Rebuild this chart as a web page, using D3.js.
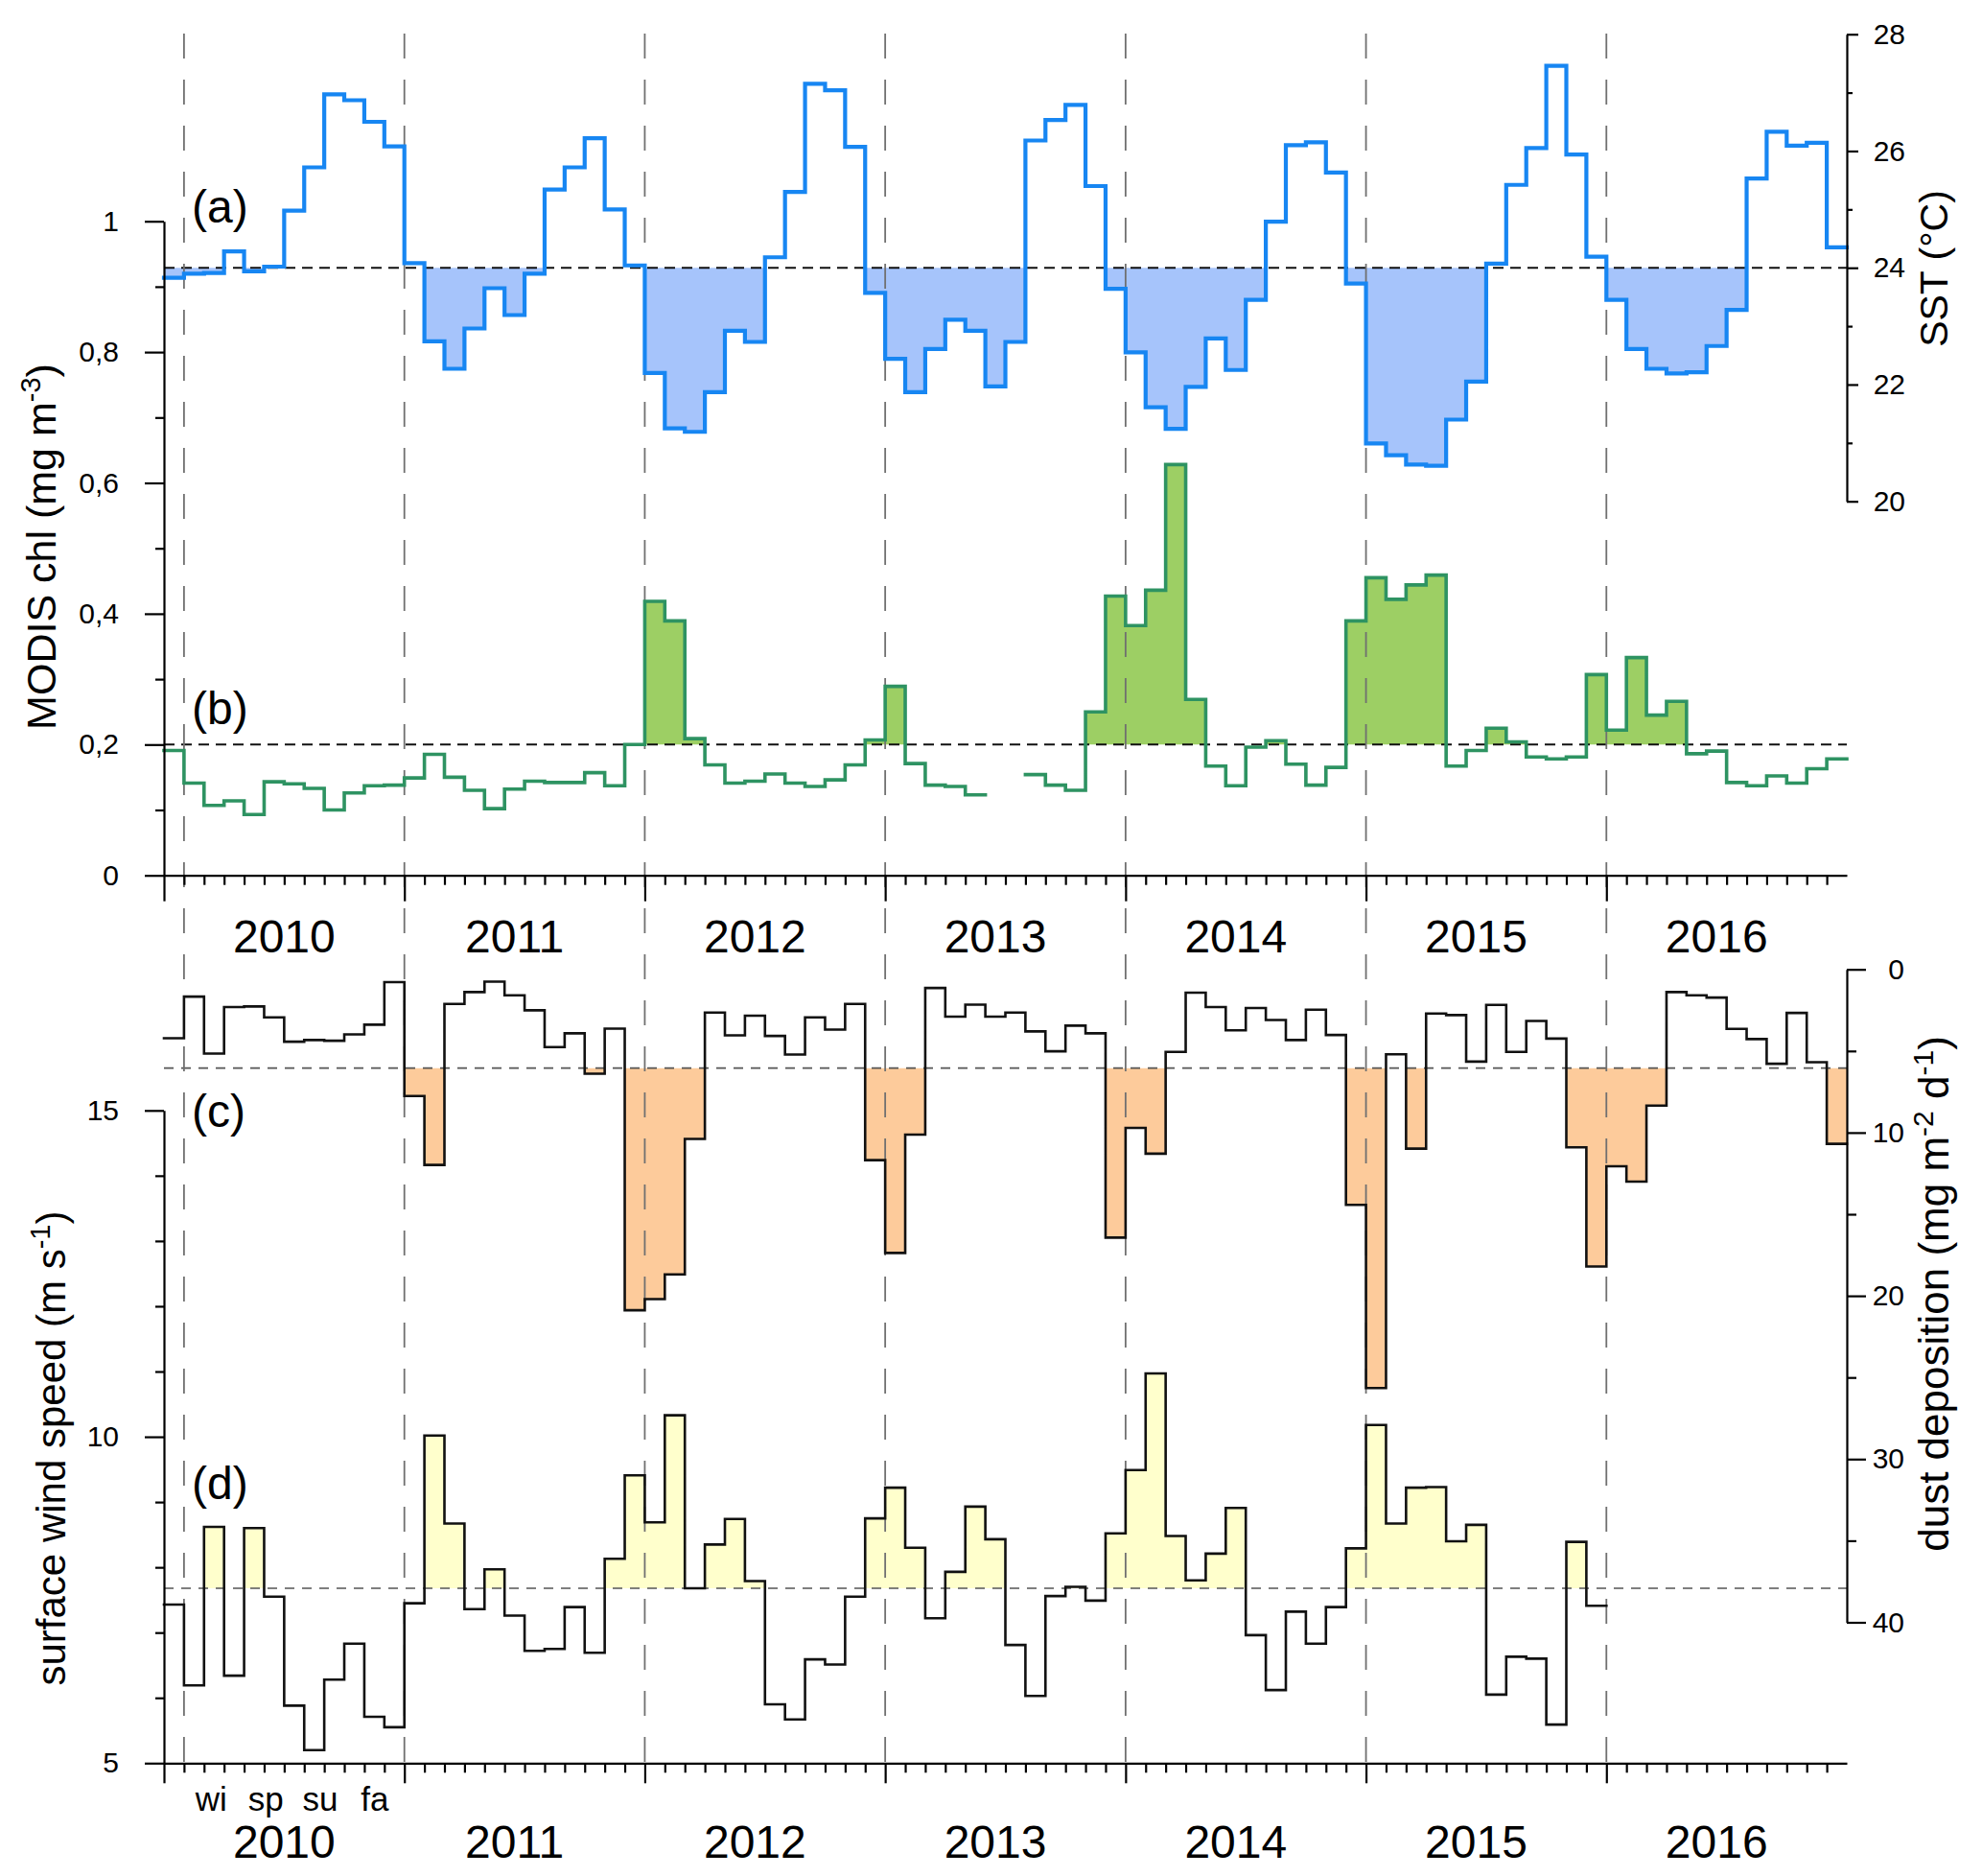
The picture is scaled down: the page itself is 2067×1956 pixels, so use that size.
<!DOCTYPE html>
<html><head><meta charset="utf-8">
<script src="https://cdn.jsdelivr.net/npm/d3@7"></script>
<style>
html,body{margin:0;padding:0;background:#fff;}
svg{display:block;}
text{font-family:"Liberation Sans", Arial, Helvetica, sans-serif;fill:#000;}
</style>
</head><body>
<svg id="chart" width="2067" height="1956"></svg>
<script>
// ---------- data (monthly, index 0 = first month on the axis) ----------
const years = ["2010","2011","2012","2013","2014","2015","2016"];
const yearLines = [1, 12, 24, 36, 48, 60, 72];   // month index of the dashed separators
const seasons = ["wi","sp","su","fa"];

const sst = [
  23.83,23.90,23.91,24.28,23.94,24.02,24.98,25.72,26.97,26.87,26.50,26.08,
  24.08,22.74,22.27,22.96,23.65,23.19,23.90,25.34,25.72,26.22,25.00,24.04,
  22.20,21.25,21.19,21.87,22.92,22.73,24.18,25.30,27.15,27.04,26.07,23.57,
  22.44,21.87,22.61,23.11,22.92,21.97,22.73,26.18,26.53,26.79,25.40,23.64,
  22.55,21.61,21.24,21.96,22.79,22.25,23.45,24.79,26.10,26.15,25.63,23.73,
  20.99,20.79,20.63,20.61,21.40,22.05,24.07,25.42,26.05,27.46,25.94,24.19,
  23.45,22.61,22.27,22.19,22.21,22.66,23.28,25.53,26.33,26.09,26.14,24.35
];
const chl = [
  0.191,0.141,0.107,0.114,0.093,0.143,0.140,0.133,0.100,0.126,0.137,0.138,
  0.149,0.185,0.150,0.130,0.102,0.132,0.144,0.142,0.142,0.157,0.137,0.200,
  0.419,0.389,0.209,0.169,0.141,0.144,0.155,0.141,0.136,0.146,0.169,0.207,
  0.289,0.171,0.138,0.136,0.123,null,null,0.154,0.138,0.130,0.250,0.427,
  0.382,0.436,0.628,0.269,0.167,0.137,0.196,0.206,0.170,0.138,0.165,0.389,
  0.455,0.422,0.444,0.459,0.167,0.191,0.225,0.204,0.181,0.178,0.181,0.307,
  0.222,0.333,0.245,0.266,0.186,0.190,0.142,0.137,0.152,0.141,0.163,0.178
];
const dust = [
  4.22,1.67,5.16,2.31,2.27,2.94,4.43,4.33,4.37,3.98,3.39,0.78,
  7.76,11.98,2.12,1.39,0.75,1.59,2.51,4.76,3.92,6.39,3.63,20.88,
  20.20,18.69,10.39,2.65,4.04,2.84,4.08,5.22,2.94,3.69,2.12,11.69,
  17.37,10.12,1.14,2.90,2.16,2.90,2.65,3.80,5.02,3.45,3.92,16.43,
  9.71,11.29,5.06,1.43,2.31,3.73,2.37,3.10,4.33,2.47,4.02,14.43,
  25.65,5.20,10.98,2.71,2.80,5.65,2.18,5.06,3.16,4.24,10.90,18.20,
  12.06,13.00,8.35,1.39,1.59,1.73,3.65,4.27,5.78,2.67,5.69,10.69
];
const wind = [
  7.43,6.19,8.62,6.34,8.60,7.55,5.88,5.20,6.28,6.83,5.71,5.55,
  7.45,10.02,8.67,7.36,7.97,7.26,6.72,6.75,7.39,6.69,8.13,9.41,
  8.69,10.33,7.68,8.35,8.74,7.79,5.90,5.67,6.59,6.51,7.55,8.75,
  9.22,8.30,7.22,7.93,8.93,8.43,6.81,6.03,7.56,7.70,7.49,8.52,
  9.49,10.97,8.48,7.80,8.21,8.91,6.96,6.12,7.32,6.83,7.39,8.29,
  10.18,8.67,9.22,9.23,8.40,8.65,6.05,6.63,6.60,5.59,8.39,7.41,
  null,null,null,null,null,null,null,null,null,null,null,null
];
const sstThreshold = 24, chlThreshold = 0.2, dustThreshold = 6.05, windThreshold = 7.68;

const chlTicks = [0,0.2,0.4,0.6,0.8,1];
const chlTickLabels = ["0","0,2","0,4","0,6","0,8","1"];
const chlMinor = [0.1,0.3,0.5,0.7,0.9];
const sstTicks = [20,22,24,26,28];
const sstMinor = [21,23,25,27];
const windTicks = [5,10,15];
const windMinor = [6,7,8,9,11,12,13,14];
const dustTicks = [0,10,20,30,40];
const dustMinor = [5,15,25,35];
const nMonths = 84;

// ---------- scales ----------
const x = d3.scaleLinear().domain([0, nMonths]).range([171, 1926]);
const ySST = d3.scaleLinear().domain([20, 28]).range([522.7, 35.7]);
const yChl = d3.scaleLinear().domain([0, 1]).range([912.7, 230.7]);
const yDust = d3.scaleLinear().domain([0, 40]).range([1010.7, 1691.5]);
const yWind = d3.scaleLinear().domain([5, 15]).range([1838.3, 1157.8]);

const svg = d3.select("#chart");
svg.append("rect").attr("width",2067).attr("height",1956).attr("fill","#fff");

function stepPoints(vals){
  const pts = [];
  vals.forEach((v,i) => {
    if (v == null) { pts.push({i, v:null}); return; }
    pts.push({i, v}, {i:i+1, v});
  });
  return pts;
}
function drawSeries(vals, y, thr, below, fillColor, lineColor, lw){
  const pts = stepPoints(vals);
  const area = d3.area().defined(d => d.v != null)
    .x(d => x(d.i)).y0(y(thr))
    .y1(d => y(below ? Math.min(d.v, thr) : Math.max(d.v, thr)));
  const line = d3.line().defined(d => d.v != null).x(d => x(d.i)).y(d => y(d.v));
  return {
    fill: () => gFill.append("path").attr("d", area(pts)).attr("fill", fillColor).attr("stroke","none"),
    line: () => gLine.append("path").attr("d", line(pts)).attr("fill","none")
      .attr("stroke", lineColor).attr("stroke-width", lw).attr("stroke-linejoin","miter").attr("stroke-linecap","square")
  };
}

const gFill = svg.append("g");
const gDash = svg.append("g");
const gLine = svg.append("g");
const gAxes = svg.append("g");
const gText = svg.append("g");

const series = [
  drawSeries(sst, ySST, sstThreshold, true, "#a6c4fb", "#1786f2", 4.2),
  drawSeries(chl, yChl, chlThreshold, false, "#9dcf64", "#2e9362", 3.6),
  drawSeries(dust, yDust, dustThreshold, false, "#fdcb9b", "#111", 2.6),
  drawSeries(wind, yWind, windThreshold, false, "#ffffcc", "#111", 2.6)
];
series.forEach(s => s.fill());

// threshold lines
[[ySST(sstThreshold), "#111", 2, "11 7"], [yChl(chlThreshold), "#111", 2, "11 7"],
 [yDust(dustThreshold), "#555", 1.6, "10 8"], [yWind(windThreshold), "#555", 1.6, "10 8"]]
 .forEach(([yy, c, w, da]) => {
  gDash.append("line").attr("x1", x(0)).attr("x2", x(nMonths)).attr("y1", yy).attr("y2", yy)
    .attr("stroke", c).attr("stroke-width", w).attr("stroke-dasharray", da);
 });
// year separators
yearLines.forEach(m => {
  gDash.append("line").attr("x1", x(m)).attr("x2", x(m)).attr("y1", 35).attr("y2", yWind(5))
    .attr("stroke", "#707070").attr("stroke-width", 1.8).attr("stroke-dasharray", "26 22");
});

series.forEach(s => s.line());

// ---------- axes ----------
const FONT = '"Liberation Sans", Arial, Helvetica, sans-serif';
function style(g, fs){
  g.attr("font-family", FONT).attr("font-size", fs);
  g.selectAll("path,line").attr("stroke","#000").attr("stroke-width", 2.2);
  g.selectAll("text").attr("fill","#000");
  return g;
}
const majorMonths = d3.range(0, nMonths, 12);
const minorMonths = d3.range(1, nMonths).filter(m => m % 12 !== 0);

// left chl axis
style(gAxes.append("g").attr("transform","translate(171,0)")
  .call(d3.axisLeft(yChl).tickValues(chlTicks).tickSize(20).tickSizeOuter(0).tickPadding(27)
    .tickFormat((d,i) => chlTickLabels[i])), 30);
style(gAxes.append("g").attr("transform","translate(171,0)")
  .call(d3.axisLeft(yChl).tickValues(chlMinor).tickSize(9).tickSizeOuter(0).tickFormat("")), 30)
  .select(".domain").remove();

// right SST axis
const sstG = style(gAxes.append("g").attr("transform","translate(1926,0)")
  .call(d3.axisRight(ySST).tickValues(sstTicks).tickSize(12).tickSizeOuter(0).tickFormat(d3.format("d"))), 30);
sstG.selectAll("text").attr("text-anchor","end").attr("x", 61);
style(gAxes.append("g").attr("transform","translate(1926,0)")
  .call(d3.axisRight(ySST).tickValues(sstMinor).tickSize(6).tickSizeOuter(0).tickFormat("")), 30)
  .select(".domain").remove();

// bottom axis of panel b
style(gAxes.append("g").attr("transform",`translate(0,${yChl(0)})`)
  .call(d3.axisBottom(x).tickValues(majorMonths).tickSize(27).tickSizeOuter(0).tickFormat("")), 30);
style(gAxes.append("g").attr("transform",`translate(0,${yChl(0)})`)
  .call(d3.axisBottom(x).tickValues(minorMonths).tickSize(10).tickSizeOuter(0).tickFormat("")), 30)
  .select(".domain").remove();

// left wind axis
style(gAxes.append("g").attr("transform","translate(171,0)")
  .call(d3.axisLeft(yWind).tickValues(windTicks).tickSize(20).tickSizeOuter(0).tickPadding(27)
    .tickFormat(d3.format("d"))), 30);
style(gAxes.append("g").attr("transform","translate(171,0)")
  .call(d3.axisLeft(yWind).tickValues(windMinor).tickSize(9).tickSizeOuter(0).tickFormat("")), 30)
  .select(".domain").remove();

// right dust axis
const dustG = style(gAxes.append("g").attr("transform","translate(1926,0)")
  .call(d3.axisRight(yDust).tickValues(dustTicks).tickSize(20).tickSizeOuter(0).tickFormat(d3.format("d"))), 30);
dustG.selectAll("text").attr("text-anchor","end").attr("x", 60);
style(gAxes.append("g").attr("transform","translate(1926,0)")
  .call(d3.axisRight(yDust).tickValues(dustMinor).tickSize(10).tickSizeOuter(0).tickFormat("")), 30)
  .select(".domain").remove();

// bottom axis of panel d
style(gAxes.append("g").attr("transform",`translate(0,${yWind(5)})`)
  .call(d3.axisBottom(x).tickValues(majorMonths).tickSize(21).tickSizeOuter(0).tickFormat("")), 30);
style(gAxes.append("g").attr("transform",`translate(0,${yWind(5)})`)
  .call(d3.axisBottom(x).tickValues(minorMonths).tickSize(10).tickSizeOuter(0).tickFormat("")), 30)
  .select(".domain").remove();

// ---------- texts ----------
const bounds = yearLines.concat([nMonths]);
years.forEach((yr, k) => {
  const cx = x((bounds[k] + bounds[k+1]) / 2 - 0.5);
  [993, 1937].forEach(by => {
    gText.append("text").attr("x", cx).attr("y", by).attr("text-anchor","middle")
      .attr("font-size", 48).text(yr);
  });
});
seasons.forEach((s, k) => {
  gText.append("text").attr("x", x(yearLines[0] + 2.72 * (k + 0.5))).attr("y", 1888)
    .attr("text-anchor","middle").attr("font-size", 35).text(s);
});

[["(a)", 232], ["(b)", 755], ["(c)", 1175], ["(d)", 1563]].forEach(([t, by]) => {
  gText.append("text").attr("x", 200).attr("y", by).attr("font-size", 48).text(t);
});

function rotLabel(tx, ty, fs, parts){
  const t = gText.append("text").attr("transform", `translate(${tx},${ty}) rotate(-90)`)
    .attr("text-anchor","middle").attr("font-size", fs);
  parts.forEach(([s, sup]) => {
    const ts = t.append("tspan").text(s);
    if (sup) ts.attr("baseline-shift","super").attr("font-size", Math.round(fs * 0.68));
  });
}
rotLabel(58, 570, 43, [["MODIS chl (mg m"], ["-3", true], [")"]]);
rotLabel(68, 1510, 42, [["surface wind speed (m s"], ["-1", true], [")"]]);
rotLabel(2031, 280, 41, [["SST (°C)"]]);
rotLabel(2032, 1349, 44, [["dust deposition (mg m"], ["-2", true], [" d"], ["-1", true], [")"]]);
</script>
</body></html>
